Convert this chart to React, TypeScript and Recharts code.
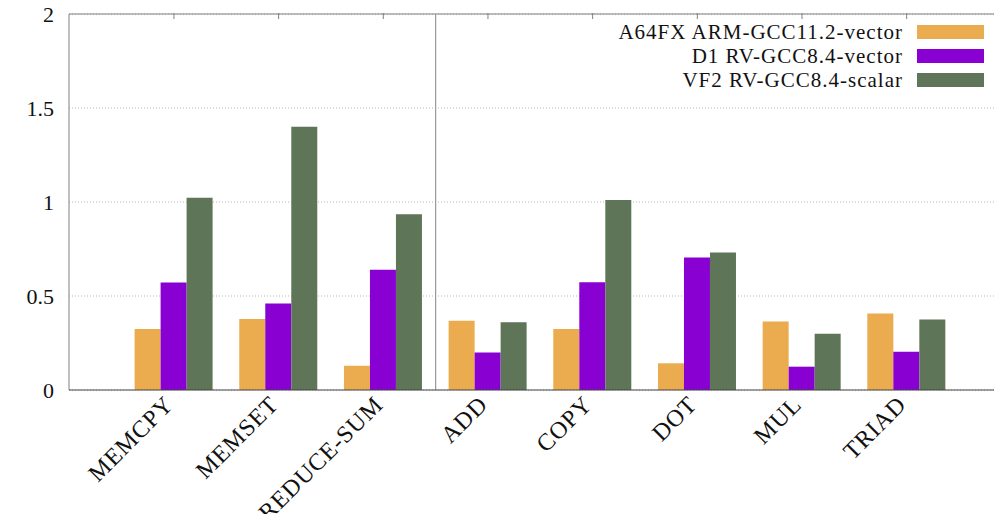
import { Bar, BarChart, CartesianGrid, Legend, ReferenceLine, XAxis, YAxis } from "recharts";

const categories = ["MEMCPY", "MEMSET", "REDUCE-SUM", "ADD", "COPY", "DOT", "MUL", "TRIAD"];
const a64fxVector = [0.324, 0.378, 0.129, 0.368, 0.324, 0.142, 0.364, 0.407];
const d1Vector = [0.572, 0.46, 0.639, 0.2, 0.573, 0.705, 0.124, 0.203];
const vf2Scalar = [1.023, 1.4, 0.935, 0.361, 1.01, 0.731, 0.299, 0.375];
const seriesNames = ["A64FX ARM-GCC11.2-vector", "D1 RV-GCC8.4-vector", "VF2 RV-GCC8.4-scalar"];
const seriesColors = ["#EAAC4E", "#8800D2", "#5E7557"];
const yTicks = [0, 0.5, 1, 1.5, 2];

const data = categories.map((name, i) => ({
  name,
  a64fx: a64fxVector[i],
  d1: d1Vector[i],
  vf2: vf2Scalar[i],
}));
const seriesKeys = ["a64fx", "d1", "vf2"];

const FONT = "Liberation Serif";
const TOP = 13;

function RotatedTick(props: any) {
  const { x, y, payload } = props;
  const tx = x + 1;
  const ty = y + 8;
  return (
    <text
      x={tx}
      y={ty}
      transform={`rotate(-45, ${tx}, ${ty})`}
      textAnchor="end"
      fontFamily={FONT}
      fontSize={24}
      fill="#111"
      letterSpacing={0.8}
    >
      {payload.value}
    </text>
  );
}

// small inward tick marks on the mirrored top border
function TopTick(props: any) {
  const { x } = props;
  return <line x1={x} x2={x} y1={TOP} y2={TOP + 6} stroke="#808080" strokeWidth={1} />;
}

function LegendBox() {
  return (
    <div style={{ fontFamily: FONT, fontSize: 21, color: "#111", letterSpacing: 1 }}>
      {seriesNames.map((n, i) => (
        <div key={n} style={{ display: "flex", justifyContent: "flex-end", alignItems: "center", height: 24 }}>
          <span>{n}</span>
          <span
            style={{
              display: "inline-block",
              width: 67,
              height: 14,
              marginLeft: 14,
              background: seriesColors[i],
            }}
          />
        </div>
      ))}
    </div>
  );
}

export default function App() {
  return (
    <div style={{ position: "absolute", left: 0, top: 0, width: 994, height: 514, overflow: "hidden", background: "#fff" }}>
      <BarChart
        width={1020}
        height={514}
        data={data}
        margin={{ top: TOP, right: 9, bottom: 0, left: 0 }}
        barGap={0}
        barSize={26}
      >
        <CartesianGrid vertical={false} stroke="#b5b5b5" strokeDasharray="1 2" />
        <YAxis
          width={69}
          domain={[0, 2]}
          ticks={yTicks}
          tickLine={false}
          tickSize={0}
          tickMargin={15}
          axisLine={{ stroke: "#808080" }}
          tick={{ fontFamily: FONT, fontSize: 22, fill: "#111" }}
        />
        <XAxis
          dataKey="name"
          height={124}
          padding={{ left: 52.6, right: 52 }}
          tickLine={false}
          axisLine={{ stroke: "#444" }}
          tick={<RotatedTick />}
          interval={0}
        />
        <XAxis
          xAxisId="top"
          dataKey="name"
          orientation="top"
          height={1}
          padding={{ left: 52.6, right: 52 }}
          tickLine={false}
          axisLine={false}
          tick={<TopTick />}
          interval={0}
        />
        <ReferenceLine y={2} stroke="#808080" />
        <ReferenceLine x="REDUCE-SUM" position="end" stroke="#999" strokeWidth={1.2} />
        <Legend
          layout="vertical"
          align="center"
          verticalAlign="middle"
          wrapperStyle={{ top: 20, left: 500, width: 484 }}
          content={() => <LegendBox />}
        />
        {seriesKeys.map((k, i) => (
          <Bar key={k} dataKey={k} name={seriesNames[i]} fill={seriesColors[i]} isAnimationActive={false} />
        ))}
      </BarChart>
    </div>
  );
}
